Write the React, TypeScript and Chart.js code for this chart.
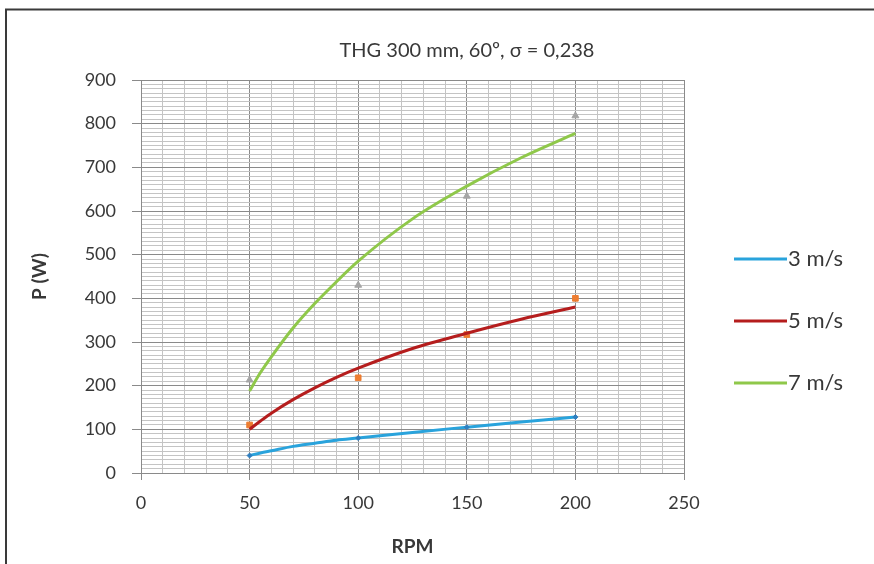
import React, { useEffect, useRef } from 'react';
import { Chart, registerables } from 'chart.js';

Chart.register(...registerables);

// ---- data ----
const chartTitle = 'THG 300 mm, 60º, σ = 0,238';
const xTitle = 'RPM';
const yTitle = 'P (W)';
const seriesLabels = ['3 m/s', '5 m/s', '7 m/s'];

// measured points
const rpm = [50, 100, 150, 200];
const measured3 = [40, 80, 105, 128];
const measured5 = [110, 218, 317, 400];
const measured7 = [213, 430, 634, 818];

// trend curves
const trendRpm = [50, 55, 60, 70, 80, 90, 100, 125, 150, 175, 200];
const trend3 = [40, 46, 51, 61, 68, 75, 80, 93, 105, 117, 128];
const trend5 = [100, 119, 137, 168, 195, 219, 240, 285, 320, 352, 380];
const trend7 = [188, 230, 266, 332, 388, 438, 485, 582, 657, 722, 778];

// axes
const xMin = 0;
const xMax = 250;
const xMajor = 50;
const xMinor = 10;
const yMin = 0;
const yMax = 900;
const yMajor = 100;
const yMinor = 10;

const FONT = 'Lato, "Open Sans", sans-serif';
const TEXT = '#383838';
const MAJOR = '#8a8a8a';
const MINOR = '#c4c4c4';
const COLORS = ['#29a3dc', '#b51d1d', '#8fc84a'];

const pts = (xs: number[], ys: number[]) => xs.map((x, i) => ({ x, y: ys[i] }));
const isMul = (v: number, s: number) => Math.abs(v / s - Math.round(v / s)) < 1e-6;

export default function App() {
  const ref = useRef<HTMLCanvasElement>(null);

  useEffect(() => {
    if (!ref.current) return;

    const framePlugin = {
      id: 'frame',
      beforeDraw(chart: any) {
        const c = chart.ctx;
        c.save();
        c.fillStyle = '#ffffff';
        c.fillRect(0, 0, chart.width, chart.height);
        c.strokeStyle = '#3a3a3a';
        c.lineWidth = 2;
        c.beginPath();
        c.moveTo(6, chart.height);
        c.lineTo(6, 9.5);
        c.lineTo(chart.width, 9.5);
        c.stroke();
        c.restore();
      },
      afterDraw(chart: any) {
        const c = chart.ctx;
        c.save();
        // title
        c.fillStyle = TEXT;
        c.font = `20px ${FONT}`;
        c.textAlign = 'center';
        c.textBaseline = 'middle';
        c.fillText(chartTitle, 467, 51);
        // legend
        const ys = [259, 321, 383];
        seriesLabels.forEach((lab, i) => {
          c.strokeStyle = COLORS[i];
          c.lineWidth = 3;
          c.beginPath();
          c.moveTo(734, ys[i]);
          c.lineTo(787, ys[i]);
          c.stroke();
          c.fillStyle = TEXT;
          c.textAlign = 'left';
          c.font = `22px ${FONT}`;
          c.fillText(lab, 788, ys[i]);
        });
        c.restore();
      },
    };

    const gridColor = (step: number) => (ctx: any) => {
      const v = ctx.tick ? ctx.tick.value : 0;
      return isMul(v, step) ? MAJOR : MINOR;
    };
    const tickColor = (step: number) => (ctx: any) => {
      const v = ctx.tick ? ctx.tick.value : 0;
      return isMul(v, step) ? MAJOR : 'rgba(0,0,0,0)';
    };

    const trend = (label: string, ys: number[], color: string, order: number) => ({
      label,
      data: pts(trendRpm, ys),
      showLine: true,
      borderColor: color,
      backgroundColor: color,
      borderWidth: 3,
      pointRadius: 0,
      cubicInterpolationMode: 'monotone' as const,
      order,
    });

    const chart = new Chart(ref.current, {
      type: 'scatter',
      data: {
        datasets: [
          {
            label: 'm7',
            data: pts(rpm, measured7),
            pointStyle: 'triangle',
            pointRadius: 4,
            backgroundColor: '#a5a5a5',
            borderColor: '#a5a5a5',
            order: 5,
          },
          {
            label: 'm5',
            data: pts(rpm, measured5),
            pointStyle: 'rect',
            pointRadius: 4,
            backgroundColor: '#ed7d31',
            borderColor: '#ed7d31',
            order: 5,
          },
          trend(seriesLabels[2], trend7, COLORS[2], 3),
          trend(seriesLabels[1], trend5, COLORS[1], 3),
          trend(seriesLabels[0], trend3, COLORS[0], 3),
          {
            label: 'm3',
            data: pts(rpm, measured3),
            pointStyle: 'rectRot',
            pointRadius: 2.5,
            backgroundColor: '#2f7fc0',
            borderColor: '#2f7fc0',
            order: 1,
          },
        ],
      },
      options: {
        animation: false,
        responsive: false,
        maintainAspectRatio: false,
        layout: { padding: { left: 28, right: 190, top: 80, bottom: 6 } },
        plugins: {
          legend: { display: false },
          title: { display: false },
          tooltip: { enabled: false },
        },
        scales: {
          x: {
            type: 'linear',
            min: xMin,
            max: xMax,
            afterFit: (s: any) => {
              s.height = 85;
            },
            ticks: {
              stepSize: xMinor,
              autoSkip: false,
              maxTicksLimit: 1000,
              maxRotation: 0,
              padding: 12,
              color: TEXT,
              font: { family: FONT, size: 18 },
              callback: (v: any) => (isMul(Number(v), xMajor) ? String(v) : ''),
            },
            grid: {
              color: gridColor(xMajor),
              tickColor: tickColor(xMajor),
              tickLength: 7,
              lineWidth: 1,
            },
            border: { color: MAJOR },
            title: {
              display: true,
              text: xTitle,
              color: TEXT,
              padding: 0,
              font: { family: FONT, size: 19, weight: 'bold' },
            },
          },
          y: {
            type: 'linear',
            min: yMin,
            max: yMax,
            afterFit: (s: any) => {
              s.width = 113;
            },
            ticks: {
              stepSize: yMinor,
              autoSkip: false,
              maxTicksLimit: 1000,
              padding: 16,
              color: TEXT,
              font: { family: FONT, size: 18 },
              callback: (v: any) => (isMul(Number(v), yMajor) ? String(v) : ''),
            },
            grid: {
              color: gridColor(yMajor),
              tickColor: tickColor(yMajor),
              tickLength: 9,
              lineWidth: 1,
            },
            border: { color: MAJOR },
            title: {
              display: true,
              text: yTitle,
              color: TEXT,
              padding: 0,
              font: { family: FONT, size: 19, weight: 'bold' },
            },
          },
        },
      },
      plugins: [framePlugin],
    } as any);

    return () => chart.destroy();
  }, []);

  return (
    <div style={{ position: 'absolute', left: 0, top: 0, width: 874, height: 564 }}>
      <canvas ref={ref} width={874} height={564} style={{ display: 'block' }} />
    </div>
  );
}
